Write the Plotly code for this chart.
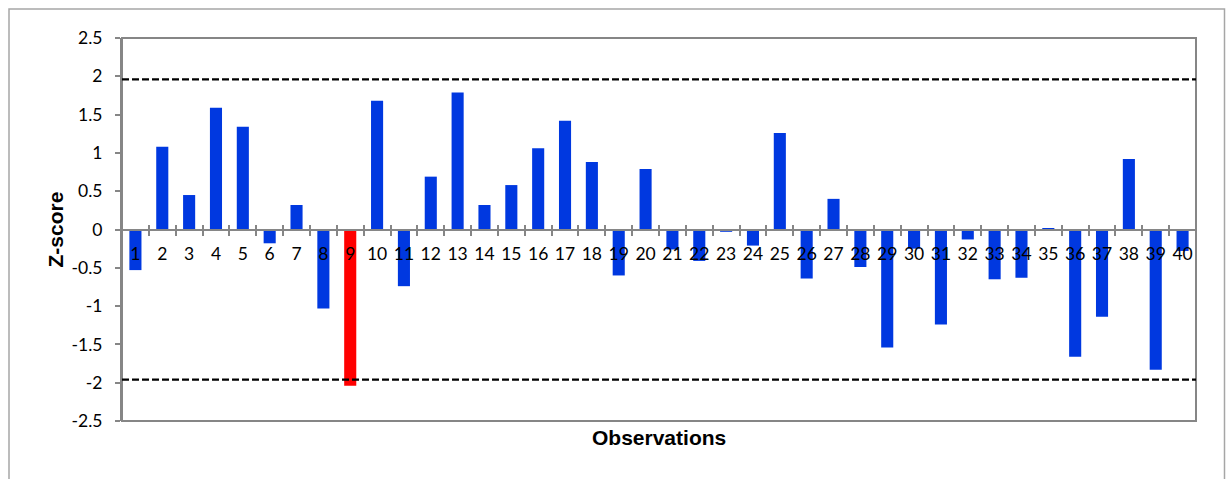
import plotly.graph_objects as go

# ---- data ----
observations = list(range(1, 41))
z_scores = [-0.53, 1.08, 0.45, 1.59, 1.34, -0.18, 0.32, -1.03, -2.04, 1.68,
            -0.74, 0.69, 1.79, 0.32, 0.58, 1.06, 1.42, 0.88, -0.60, 0.79,
            -0.26, -0.41, -0.03, -0.21, 1.26, -0.64, 0.40, -0.49, -1.54, -0.25,
            -1.24, -0.13, -0.65, -0.63, 0.02, -1.66, -1.14, 0.92, -1.83, -0.28]
x_labels = [str(o) for o in observations]
y_tickvals = [2.5, 2, 1.5, 1, 0.5, 0, -0.5, -1, -1.5, -2, -2.5]
y_ticktext = ["2.5", "2", "1.5", "1", "0.5", "0", "-0.5", "-1", "-1.5", "-2", "-2.5"]
critical = 1.96

BLUE = "#0038E0"
RED = "#FF0000"
GREY = "#868686"
colors = [RED if abs(v) > critical else BLUE for v in z_scores]

# layout geometry (pixels)
W, H = 1230, 479
L, R, T, B = 122, 34, 38, 58
pw, ph = W - L - R, H - T - B

def px_x(p):
    return (p - L) / pw

def px_y(p):
    return (H - B - p) / ph

fig = go.Figure()
fig.add_trace(go.Bar(x=observations, y=z_scores, marker=dict(color=colors, line=dict(width=0)),
                     xaxis="x", yaxis="y", showlegend=False, hoverinfo="x+y"))
# invisible helper traces so the tick-only overlay axes are drawn
for ax in ("x2", "x3"):
    fig.add_trace(go.Scatter(x=observations, y=z_scores, mode="markers",
                             marker=dict(opacity=0), xaxis=ax, yaxis="y",
                             showlegend=False, hoverinfo="skip"))

xr = [0.5, 40.5]
boundaries = [o + 0.5 for o in observations]
tickfont = dict(family="Lato, Calibri, sans-serif", size=17.5, color="#000000")

fig.update_layout(
    width=W, height=H,
    margin=dict(l=L, r=R, t=T, b=B, pad=0),
    paper_bgcolor="white", plot_bgcolor="white",
    bargap=0.55,
    xaxis=dict(range=xr, tickvals=observations, ticktext=x_labels, ticks="",
               showgrid=False, zeroline=False, showline=True, linecolor=GREY, linewidth=2,
               anchor="free", position=0.5, tickfont=tickfont, ticklabelstandoff=8),
    xaxis2=dict(range=xr, overlaying="x", tickvals=boundaries, ticks="outside", ticklen=5,
                tickwidth=2, tickcolor=GREY, showticklabels=False, showgrid=False,
                zeroline=False, showline=False, anchor="free", position=0.5),
    xaxis3=dict(range=xr, overlaying="x", tickvals=boundaries, ticks="inside", ticklen=5,
                tickwidth=2, tickcolor=GREY, showticklabels=False, showgrid=False,
                zeroline=False, showline=False, anchor="free", position=0.5),
    yaxis=dict(range=[-2.5, 2.5], tickvals=y_tickvals, ticktext=y_ticktext, ticks="outside",
               ticklen=5, tickwidth=2, tickcolor=GREY, showgrid=False, zeroline=False,
               showline=True, linecolor=GREY, linewidth=2, tickfont=tickfont,
               ticklabelstandoff=9),
    shapes=[
        dict(type="rect", xref="paper", yref="paper", x0=0, x1=1, y0=0, y1=1,
             line=dict(color=GREY, width=2), layer="above"),
        dict(type="rect", xref="paper", yref="paper", x0=px_x(9), x1=px_x(1224.5),
             y0=px_y(520), y1=px_y(9), line=dict(color="#A6A6A6", width=1.5), layer="above"),
        dict(type="line", xref="paper", yref="y", x0=0, x1=1, y0=critical, y1=critical,
             line=dict(color="black", width=2.3, dash="7px,3px"), layer="above"),
        dict(type="line", xref="paper", yref="y", x0=0, x1=1, y0=-critical, y1=-critical,
             line=dict(color="black", width=2.3, dash="7px,3px"), layer="above"),
    ],
    annotations=[
        dict(text="<b>Z-score</b>", xref="paper", yref="paper", x=px_x(55), y=0.5,
             xanchor="center", yanchor="middle", textangle=-90, showarrow=False,
             font=dict(family="Liberation Sans, Arial, sans-serif", size=21, color="black")),
        dict(text="<b>Observations</b>", xref="paper", yref="paper", x=px_x(659), y=px_y(437.5),
             xanchor="center", yanchor="middle", showarrow=False,
             font=dict(family="Liberation Sans, Arial, sans-serif", size=21, color="black")),
    ],
)

fig.write_html("out.html", config={"displayModeBar": False},
               post_script="document.body.style.margin='0px';")
